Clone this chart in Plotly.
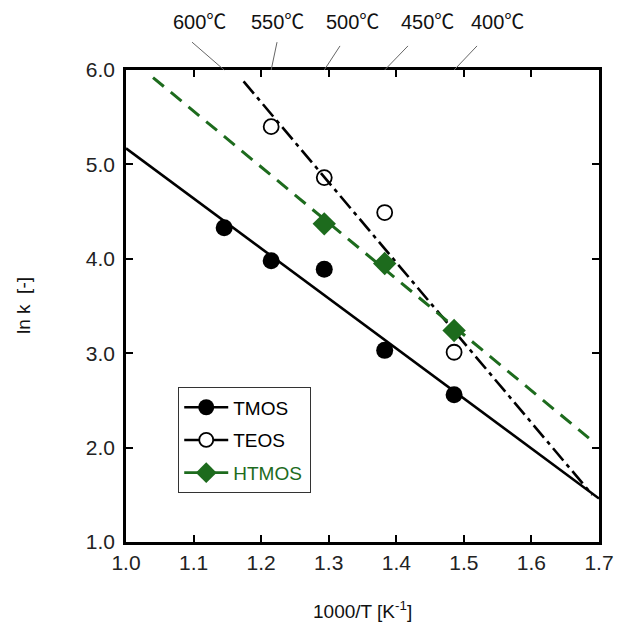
import plotly.graph_objects as go

# ---- data ----
temps_C = [600, 550, 500, 450, 400]
inv_T = [1000.0 / (t + 273.15) for t in temps_C]

tmos_x = inv_T
tmos_y = [4.33, 3.98, 3.89, 3.03, 2.56]

teos_x = inv_T[1:]
teos_y = [5.40, 4.86, 4.49, 3.01]

htmos_x = inv_T[2:]
htmos_y = [4.37, 3.95, 3.24]

# fitted Arrhenius lines (end points)
tmos_fit_x = [1.0, 1.70]
tmos_fit_y = [5.17, 1.46]
teos_fit_x = [1.174, 1.690]
teos_fit_y = [5.88, 1.50]
htmos_fit_x = [1.04, 1.685]
htmos_fit_y = [5.92, 2.10]

temp_labels = ["600℃", "550℃", "500℃", "450℃", "400℃"]
label_x = [1.1095, 1.2235, 1.3345, 1.4455, 1.5505]
conn_x = [1.0977, 1.2235, 1.3167, 1.4173, 1.5195]
conn_y = [1.059, 1.059, 1.051, 1.051, 1.051]

x_ticks = [1.0, 1.1, 1.2, 1.3, 1.4, 1.5, 1.6, 1.7]
y_ticks = [1.0, 2.0, 3.0, 4.0, 5.0, 6.0]

GREEN = "#1d6b1d"
FONT = "Arial, 'Liberation Sans', 'Noto Sans CJK JP', sans-serif"
PAD = "&nbsp;" * 3

fig = go.Figure()

# fit lines
fig.add_trace(go.Scatter(x=tmos_fit_x, y=tmos_fit_y, mode="lines",
                         line=dict(color="black", width=2.6), showlegend=False))
fig.add_trace(go.Scatter(x=teos_fit_x, y=teos_fit_y, mode="lines",
                         line=dict(color="black", width=2.6, dash="16px,5px,4px,5px"),
                         showlegend=False))
fig.add_trace(go.Scatter(x=htmos_fit_x, y=htmos_fit_y, mode="lines",
                         line=dict(color=GREEN, width=3, dash="14px,9px"),
                         showlegend=False))

# data points
fig.add_trace(go.Scatter(x=tmos_x, y=tmos_y, mode="markers",
                         marker=dict(symbol="circle", size=17, color="black"),
                         showlegend=False))
fig.add_trace(go.Scatter(x=teos_x, y=teos_y, mode="markers",
                         marker=dict(symbol="circle-open", size=15, color="black",
                                     line=dict(width=1.8, color="black")),
                         showlegend=False))
fig.add_trace(go.Scatter(x=htmos_x, y=htmos_y, mode="markers",
                         marker=dict(symbol="diamond", size=18, color=GREEN),
                         showlegend=False))

# legend entries
fig.add_trace(go.Scatter(x=[None], y=[None], mode="lines+markers", name="TMOS" + PAD,
                         legendgroup="a",
                         line=dict(color="black", width=2.6),
                         marker=dict(symbol="circle", size=17, color="black")))
fig.add_trace(go.Scatter(x=[None], y=[None], mode="lines+markers", name="TEOS" + PAD,
                         legendgroup="b",
                         line=dict(color="black", width=2.6),
                         marker=dict(symbol="circle", size=14, color="white",
                                     line=dict(width=1.8, color="black"))))
fig.add_trace(go.Scatter(x=[None], y=[None], mode="lines+markers",
                         name="<span style='color:%s'>HTMOS</span>" % GREEN,
                         legendgroup="c",
                         line=dict(color=GREEN, width=2.6),
                         marker=dict(symbol="diamond", size=16, color=GREEN)))

annotations = []
shapes = []
for t, lx, cx, cy, xv in zip(temp_labels, label_x, conn_x, conn_y, inv_T):
    annotations.append(dict(x=lx, y=1.1017, xref="x", yref="paper", text=t,
                            showarrow=False, xanchor="center", yanchor="middle",
                            font=dict(size=20, color="#111", family=FONT)))
    shapes.append(dict(type="line", xref="x", yref="paper", x0=cx, y0=cy,
                       x1=xv, y1=1.0, line=dict(color="#666", width=1)))

annotations.append(dict(x=0.5, y=0, xref="paper", yref="paper",
                        text="1000/T [K<sup>-1</sup>]", showarrow=False,
                        xanchor="center", yanchor="middle", yshift=-68,
                        font=dict(size=19, color="#111", family=FONT)))
annotations.append(dict(x=0, y=0.5, xref="paper", yref="paper",
                        text="ln k  [-]", showarrow=False, textangle=-90,
                        xanchor="center", yanchor="middle", xshift=-103,
                        font=dict(size=19, color="#111", family=FONT)))

axis_common = dict(showline=True, linecolor="black", linewidth=2.6, mirror="allticks",
                   ticks="inside", ticklen=7, tickwidth=2.2, tickcolor="black",
                   showgrid=False, zeroline=False, automargin=False,
                   tickfont=dict(size=21, color="#222", family=FONT))

fig.update_layout(
    width=617, height=626,
    margin=dict(l=126, r=18, t=70, b=84),
    paper_bgcolor="white", plot_bgcolor="white",
    xaxis=dict(range=[1.0, 1.7], tickvals=x_ticks, tickformat=".1f", **axis_common),
    yaxis=dict(range=[1.0, 6.0], tickvals=y_ticks, tickformat=".1f",
               ticklabelstandoff=4, **axis_common),
    legend=dict(x=0.11, y=0.328, xanchor="left", yanchor="top",
                bordercolor="#333", borderwidth=1.2, bgcolor="white",
                itemwidth=44,
                tracegroupgap=5, font=dict(size=19, color="black", family=FONT)),
    annotations=annotations, shapes=shapes,
    font=dict(family=FONT),
)

fig.write_html("out.html", config={"displayModeBar": False},
               post_script="document.body.style.margin='0';document.body.style.overflow='hidden';")
